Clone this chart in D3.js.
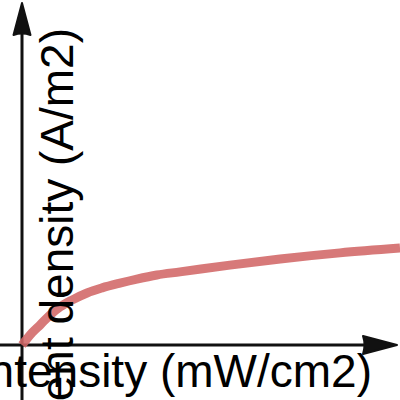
<!DOCTYPE html>
<html>
<head>
<meta charset="utf-8">
<script src="https://cdn.jsdelivr.net/npm/d3@7"></script>
<style>
  body { margin: 0; background: #fff; }
  svg { display: block; }
  text { font-family: "Liberation Sans", Arial, sans-serif; fill: #000; }
</style>
</head>
<body>
<script>
// light intensity (mW/cm2) vs current density (A/m2)
const intensity = [0, 1.3, 2.6, 4.8, 7.4, 10.1, 13.2, 17.2, 21.2, 25.9, 30.4, 35.7, 41.8, 55.0, 68.3, 84.1, 100];
const current   = [0, 1.8, 3.5, 5.9, 8.8, 11.2, 13.2, 15.3, 16.8, 18.2, 19.4, 20.6, 21.5, 23.5, 25.3, 27.1, 28.5];
const xLabel = "Light intensity (mW/cm2)";
const yLabel = "Current density (A/m2)";

const w = 400, h = 400;
const svg = d3.select("body").append("svg")
  .attr("width", w)
  .attr("height", h);

const x = d3.scaleLinear().domain([0, 100]).range([22, 400]);
const y = d3.scaleLinear().domain([0, 100]).range([345, 5]);

// axes: plain lines crossing at the origin, with arrow heads
svg.append("line")
  .attr("x1", 0).attr("y1", y(0))
  .attr("x2", 392).attr("y2", y(0))
  .attr("stroke", "#111").attr("stroke-width", 3);
svg.append("line")
  .attr("x1", x(0)).attr("y1", h)
  .attr("x2", x(0)).attr("y2", 8)
  .attr("stroke", "#111").attr("stroke-width", 3);

svg.append("path")
  .attr("d", `M${x(0)},3 L${x(0) + 8.5},35 Q${x(0)},32 ${x(0) - 8.5},35 Z`)
  .attr("fill", "#111").attr("stroke", "#111").attr("stroke-width", 2)
  .attr("stroke-linejoin", "round");
svg.append("path")
  .attr("d", `M397,${y(0)} L363,${y(0) - 9} Q366,${y(0)} 363,${y(0) + 9} Z`)
  .attr("fill", "#111").attr("stroke", "#111").attr("stroke-width", 2)
  .attr("stroke-linejoin", "round");

// the curve
svg.append("path")
  .datum(current)
  .attr("d", d3.line()
    .x((d, i) => x(intensity[i]))
    .y(d => y(d))
    .curve(d3.curveMonotoneX))
  .attr("fill", "none")
  .attr("stroke", "#d26666")
  .attr("stroke-opacity", 0.88)
  .attr("stroke-width", 9)
  .attr("stroke-linecap", "butt");

// labels (they run off the edge, as in the picture)
svg.append("text")
  .attr("x", 372)
  .attr("y", 387)
  .attr("text-anchor", "end")
  .style("font-size", "46px")
  .text(xLabel);

svg.append("text")
  .attr("transform", "translate(73,28) rotate(-90)")
  .attr("text-anchor", "end")
  .style("font-size", "46px")
  .text(yLabel);
</script>
</body>
</html>
